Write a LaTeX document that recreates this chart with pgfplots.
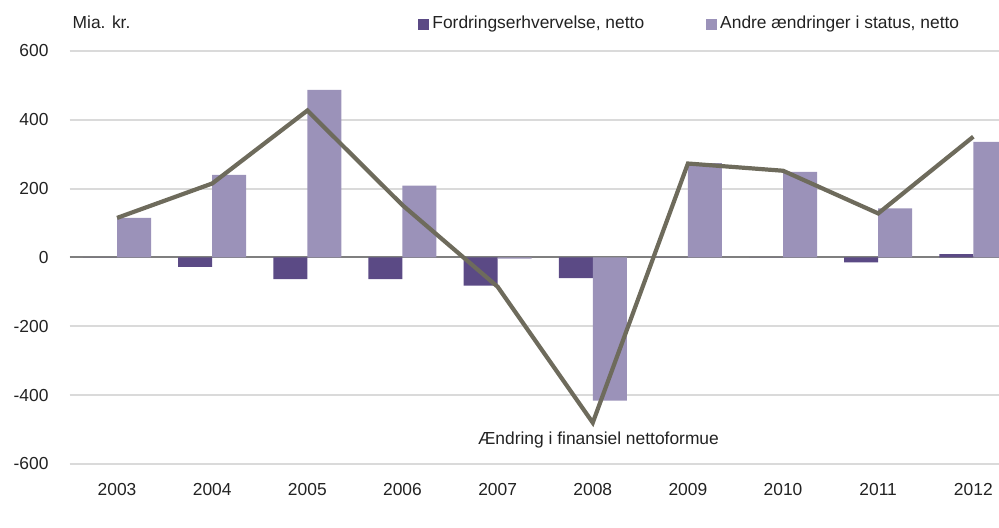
\documentclass[border=0pt]{standalone}
\usepackage{pgfplots}
\pgfplotsset{compat=1.18}
\usepackage{fontspec}
\setmainfont{Liberation Sans}
\definecolor{darkbar}{HTML}{5B4A85}
\definecolor{lightbar}{HTML}{9B92B9}
\definecolor{linec}{HTML}{6E6B5C}
\definecolor{gridc}{HTML}{DADADA}
\definecolor{zeroc}{HTML}{7F7F7F}
\definecolor{txt}{HTML}{222222}
\begin{document}
\begin{tikzpicture}
\path[use as bounding box] (-34.75pt,-32pt) rectangle (464.75pt,232pt);
\begin{axis}[
  at={(0pt,0pt)}, anchor=south west,
  scale only axis, width=464.75pt, height=206.5pt,
  xmin=-0.5, xmax=9.27, ymin=-600, ymax=600,
  clip=true, clip mode=individual,
  axis line style={draw=none},
  font=\fontsize{8.7pt}{10pt}\selectfont,
  tick label style={text=txt},
  xtick={0,...,9},
  xticklabels={2003,2004,2005,2006,2007,2008,2009,2010,2011,2012},
  ytick={-600,-400,-200,0,200,400,600},
  yticklabels={-600,-400,-200,0,200,400,600},
  major tick length=0pt,
  xticklabel style={yshift=-6pt},
  yticklabel style={xshift=-7pt},
  ymajorgrids, grid style={gridc, line width=0.9pt},
  extra y ticks={0}, extra y tick labels={},
  extra y tick style={grid style={zeroc, line width=1pt}},
  legend style={at={(0.3685,1.065)}, anchor=west, draw=none, fill=none,
    font=\fontsize{8.7pt}{10pt}\selectfont, text=txt,
    /tikz/every even column/.append style={column sep=30pt},
    nodes={inner sep=1pt}},
  legend columns=2,
  legend cell align=left,
]
\addplot[ybar, bar width=17pt, bar shift=-8.5pt, fill=darkbar, draw=none,
  legend image code/.code={\fill[darkbar] (0pt,-2.75pt) rectangle (5.5pt,2.75pt); \path (6pt,0pt);}]
  coordinates {(0,0) (1,-27) (2,-63) (3,-63) (4,-82) (5,-60) (6,0) (7,0) (8,-14) (9,10)};
\addlegendentry{Fordringserhvervelse, netto}
\addplot[ybar, bar width=17pt, bar shift=8.5pt, fill=lightbar, draw=none,
  legend image code/.code={\fill[lightbar] (0pt,-2.75pt) rectangle (5.5pt,2.75pt); \path (6pt,0pt);}]
  coordinates {(0,115) (1,240) (2,487) (3,209) (4,-3) (5,-416) (6,274) (7,249) (8,143) (9,336)};
\addlegendentry{Andre ændringer i status, netto}
\addplot[linec, line width=2.1pt, mark=none, forget plot]
  coordinates {(0,115) (1,215) (2,427) (3,152) (4,-85) (5,-480) (6,273) (7,252) (8,128) (9,351)};
\node[text=txt, font=\fontsize{8.7pt}{10pt}\selectfont] at (axis cs:5.06,-530) {Ændring i finansiel nettoformue};
\node[text=txt, anchor=west, inner sep=0pt, font=\fontsize{8.7pt}{10pt}\selectfont] at (rel axis cs:0.003,1.07) {Mia. kr.};
\end{axis}
\end{tikzpicture}
\end{document}
